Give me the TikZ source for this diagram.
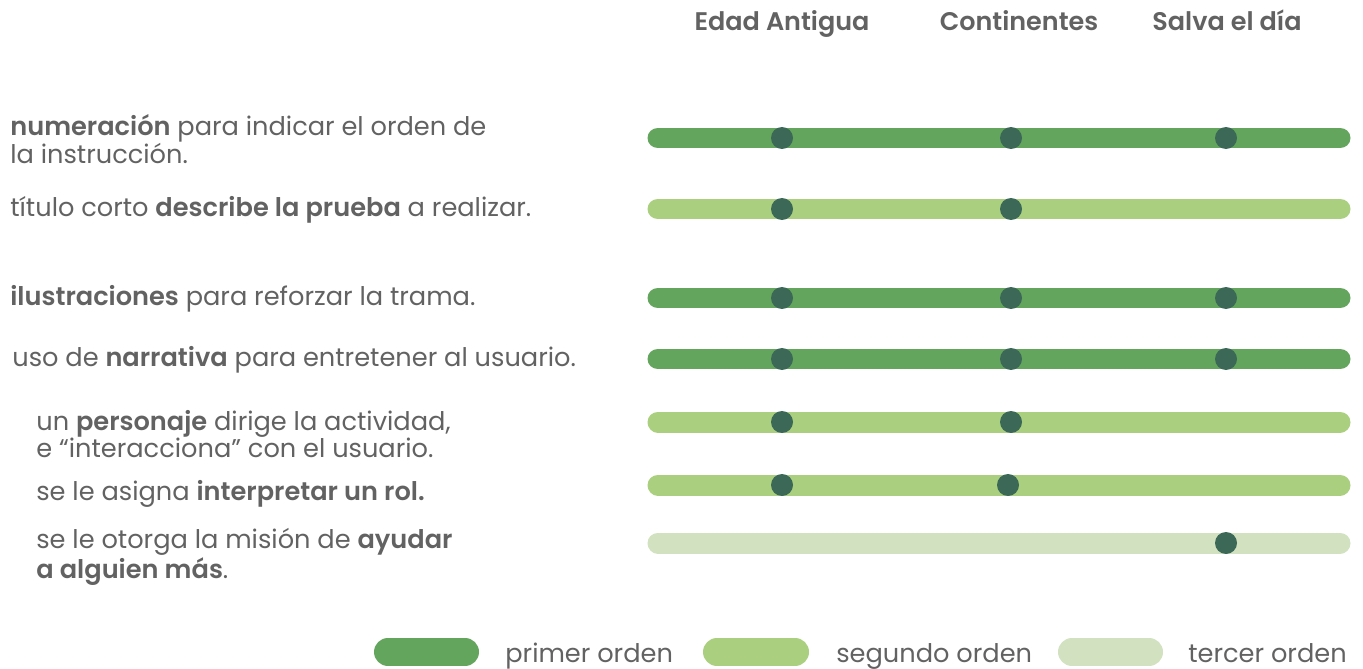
\documentclass[tikz,border=0pt]{standalone}
\usepackage{fontspec}
\setmainfont{Poppins}[BoldFont=* SemiBold]
\usepackage{tikz}
\usetikzlibrary{positioning}
\definecolor{VerdeOscuro}{RGB}{100,165,94}
\definecolor{VerdeClaro}{RGB}{169,207,127}
\definecolor{VerdePalido}{RGB}{210,225,192}
\definecolor{VerdePunto}{RGB}{60,105,87}
\definecolor{GrisTexto}{RGB}{98,98,98}

\tikzset{
    barra/.style={line width=0.42cm, line cap=round},
    pastilla/.style={line width=0.56cm, line cap=round},
    punto/.style={shape=circle, fill=VerdePunto, inner sep=0pt, minimum size=0.44cm},
    etiqueta/.style={anchor=base west, inner sep=0pt, align=left, text=GrisTexto},
    cabecera/.style={anchor=base, inner sep=0pt, text=GrisTexto, font=\fontsize{14.5}{15.3}\selectfont\bfseries},
}

\begin{document}
\begin{tikzpicture}[x=0.02cm, y=-0.02cm, font=\fontsize{14.6}{15.3}\selectfont]
    \useasboundingbox (0,0) rectangle (1363,669);

    % columnas
    \node[cabecera] (H1) at (782,31)  {Edad Antigua};
    \node[cabecera] (H2) at (1019,31) {Continentes};
    \node[cabecera] (H3) at (1227,31) {Salva el día};

    % textos de las filas (base = ultima linea)
    \node[etiqueta] (T1) at (10,164) {\textbf{numeración} para indicar el orden de\\la instrucción.};
    \node[etiqueta] (T2) at (10,216) {título corto \textbf{describe la prueba} a realizar.};
    \node[etiqueta] (T3) at (10,305) {\textbf{ilustraciones} para reforzar la trama.};
    \node[etiqueta] (T4) at (12,366) {uso de \textbf{narrativa} para entretener al usuario.};
    \node[etiqueta] (T5) at (36,457) {un \textbf{personaje} dirige la actividad,\\e “interacciona” con el usuario.};
    \node[etiqueta] (T6) at (36,500) {se le asigna \textbf{interpretar un rol.}};
    \node[etiqueta] (T7) at (36,578) {se le otorga la misión de \textbf{ayudar}\\\textbf{a alguien más}.};

    % barras
    \coordinate (A1) at (658,138); \coordinate (B1) at (1340,138);
    \coordinate (A2) at (658,209); \coordinate (B2) at (1340,209);
    \coordinate (A3) at (658,298); \coordinate (B3) at (1340,298);
    \coordinate (A4) at (658,359); \coordinate (B4) at (1340,359);
    \coordinate (A5) at (658,422); \coordinate (B5) at (1340,422);
    \coordinate (A6) at (658,485); \coordinate (B6) at (1340,485);
    \coordinate (A7) at (658,543); \coordinate (B7) at (1340,543);
    \draw[barra, VerdeOscuro] (A1) -- (B1);
    \draw[barra, VerdeClaro]  (A2) -- (B2);
    \draw[barra, VerdeOscuro] (A3) -- (B3);
    \draw[barra, VerdeOscuro] (A4) -- (B4);
    \draw[barra, VerdeClaro]  (A5) -- (B5);
    \draw[barra, VerdeClaro]  (A6) -- (B6);
    \draw[barra, VerdePalido] (A7) -- (B7);

    % puntos
    \node[punto] (P11) at (782,138)  {};
    \node[punto] (P12) at (1011,138) {};
    \node[punto] (P13) at (1226,138) {};
    \node[punto] (P21) at (782,209)  {};
    \node[punto] (P22) at (1011,209) {};
    \node[punto] (P31) at (782,298)  {};
    \node[punto] (P32) at (1011,298) {};
    \node[punto] (P33) at (1226,298) {};
    \node[punto] (P41) at (782,359)  {};
    \node[punto] (P42) at (1011,359) {};
    \node[punto] (P43) at (1226,359) {};
    \node[punto] (P51) at (782,422)  {};
    \node[punto] (P52) at (1011,422) {};
    \node[punto] (P61) at (782,485)  {};
    \node[punto] (P62) at (1008,485) {};
    \node[punto] (P73) at (1226,543) {};

    % leyenda
    \coordinate (L1a) at (388,652);  \coordinate (L1b) at (465,652);
    \coordinate (L2a) at (717,652);  \coordinate (L2b) at (795,652);
    \coordinate (L3a) at (1072,652); \coordinate (L3b) at (1149,652);
    \draw[pastilla, VerdeOscuro] (L1a) -- (L1b);
    \draw[pastilla, VerdeClaro]  (L2a) -- (L2b);
    \draw[pastilla, VerdePalido] (L3a) -- (L3b);
    \node[etiqueta] (E1) at (505,662)  {primer orden};
    \node[etiqueta] (E2) at (836,662)  {segundo orden};
    \node[etiqueta] (E3) at (1188,662) {tercer orden};
\end{tikzpicture}
\end{document}
